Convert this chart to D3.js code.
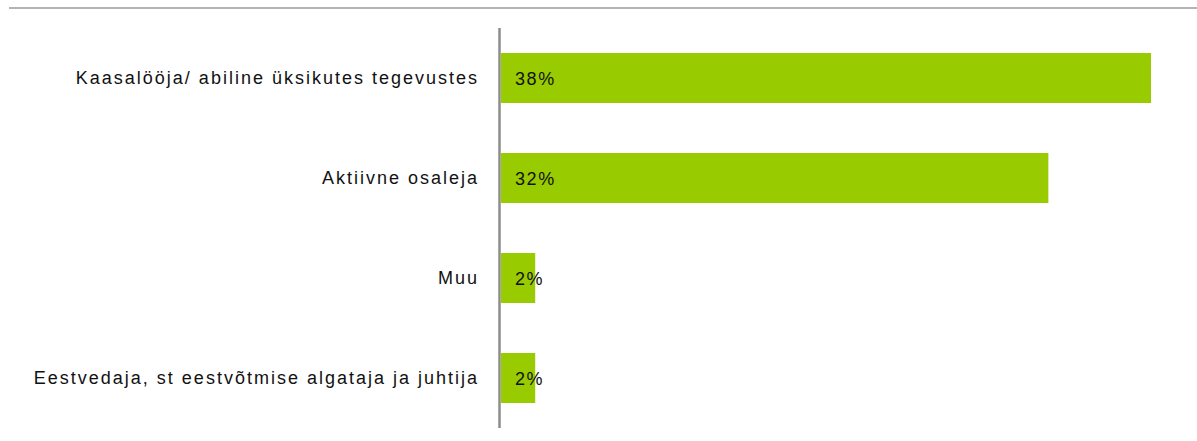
<!DOCTYPE html>
<html>
<head>
<meta charset="utf-8">
<script src="https://cdnjs.cloudflare.com/ajax/libs/d3/7.8.5/d3.min.js"></script>
<style>
  body { margin: 0; background: #fff; }
  svg { display: block; font-family: "Liberation Sans", Arial, sans-serif; }
</style>
</head>
<body>
<svg width="1197" height="441"></svg>
<script>
var categories = [
  "Kaasalööja/ abiline üksikutes tegevustes",
  "Aktiivne osaleja",
  "Muu",
  "Eestvedaja, st eestvõtmise algataja ja juhtija"
];
var values = [38, 32, 2, 2];

var svg = d3.select("svg"),
    width = +svg.attr("width"),
    height = +svg.attr("height");

var x0 = 501;
var x = d3.scaleLinear()
    .domain([0, 38])
    .range([x0, 1151]);

var y = d3.scaleBand()
    .domain(categories)
    .range([28, 428])
    .paddingInner(0.5)
    .paddingOuter(0.25);

// top rule
svg.append("line")
    .attr("x1", 9).attr("x2", width)
    .attr("y1", 8).attr("y2", 8)
    .attr("stroke", "#9a9a9a")
    .attr("stroke-width", 1.5);

var data = categories.map(function(c, i) { return { cat: c, value: values[i] }; });

svg.append("g")
    .selectAll("rect")
    .data(data)
    .enter().append("rect")
    .attr("x", x(0))
    .attr("y", function(d) { return y(d.cat); })
    .attr("width", function(d) { return x(d.value) - x(0); })
    .attr("height", y.bandwidth())
    .attr("fill", "#99cc00");

// value labels
svg.append("g")
    .selectAll("text")
    .data(data)
    .enter().append("text")
    .attr("x", x(0) + 14)
    .attr("y", function(d) { return y(d.cat) + y.bandwidth() / 2; })
    .attr("dy", "0.38em")
    .attr("font-size", 18)
    .attr("letter-spacing", 1.6)
    .attr("fill", "#111")
    .text(function(d) { return d.value + "%"; });

// category labels
svg.append("g")
    .selectAll("text")
    .data(categories)
    .enter().append("text")
    .attr("x", 479)
    .attr("y", function(d) { return y(d) + y.bandwidth() / 2; })
    .attr("dy", "0.36em")
    .attr("text-anchor", "end")
    .attr("font-size", 18)
    .attr("letter-spacing", 2)
    .attr("fill", "#111")
    .text(function(d) { return d; });

// vertical axis line
svg.append("line")
    .attr("x1", 499.5).attr("x2", 499.5)
    .attr("y1", 28).attr("y2", 428)
    .attr("stroke", "#8c8c8c")
    .attr("stroke-width", 2.5);
</script>
</body>
</html>
